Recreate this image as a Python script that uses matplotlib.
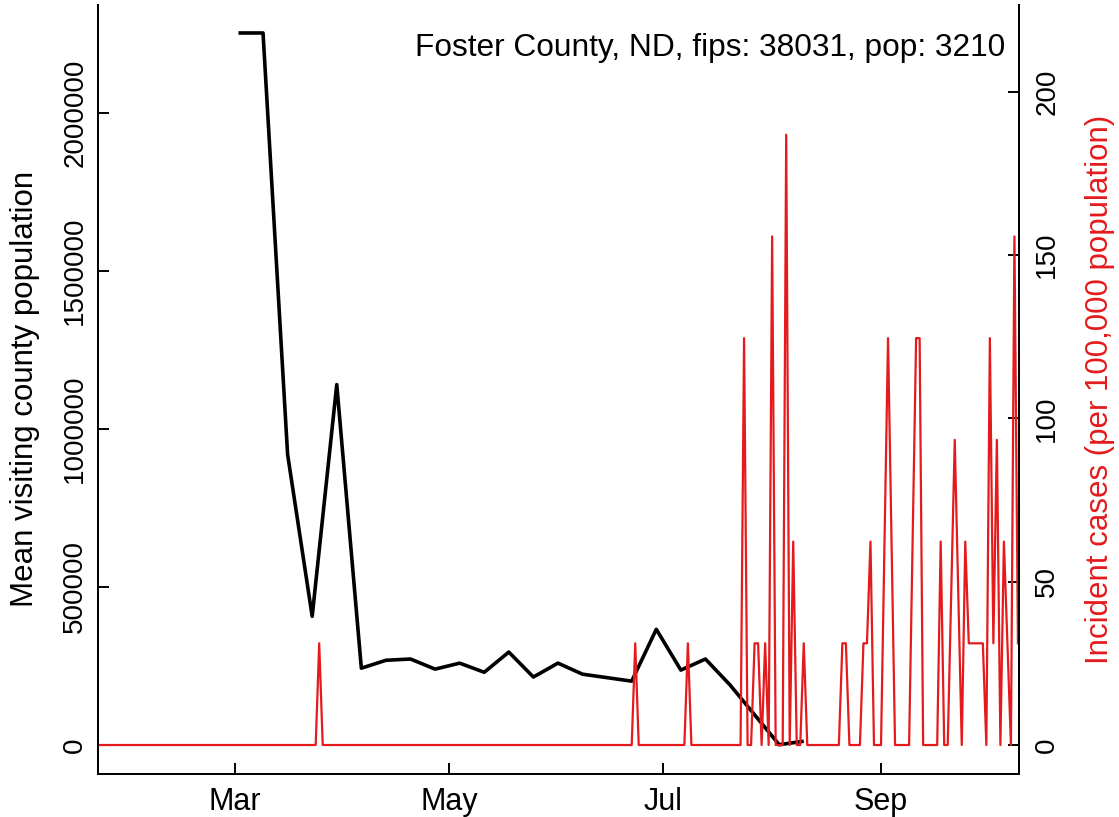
import matplotlib
matplotlib.use("Agg")
import matplotlib.pyplot as plt
import matplotlib.dates as mdates
import pandas as pd

plt.rcParams['font.family'] = ['Liberation Sans', 'DejaVu Sans']

# weekly mean visiting population (black line)
visit_dates = ['2020-03-02', '2020-03-09', '2020-03-16', '2020-03-23', '2020-03-30',
               '2020-04-06', '2020-04-13', '2020-04-20', '2020-04-27', '2020-05-04',
               '2020-05-11', '2020-05-18', '2020-05-25', '2020-06-01', '2020-06-08',
               '2020-06-22', '2020-06-29', '2020-07-06', '2020-07-13', '2020-07-20',
               '2020-08-03', '2020-08-10']
visit_means = [2252000, 2252000, 919000, 407000, 1140000,
               243000, 268000, 272000, 240000, 259000,
               230000, 294000, 215000, 259000, 224000,
               202000, 366000, 237000, 272000, 190000,
               1000, 12000]

# daily new cases; every day not listed is zero
case_start = '2020-01-22'
case_end = '2020-10-10'
case_dates = ['2020-03-25', '2020-06-23', '2020-07-08', '2020-07-24', '2020-07-27',
              '2020-07-28', '2020-07-30', '2020-08-01', '2020-08-05', '2020-08-07',
              '2020-08-10', '2020-08-21', '2020-08-22', '2020-08-27', '2020-08-28',
              '2020-08-29', '2020-09-02', '2020-09-03', '2020-09-04', '2020-09-10',
              '2020-09-11', '2020-09-12', '2020-09-18', '2020-09-21', '2020-09-22',
              '2020-09-23', '2020-09-25', '2020-09-26', '2020-09-27', '2020-09-28',
              '2020-09-29', '2020-09-30', '2020-10-02', '2020-10-03', '2020-10-04',
              '2020-10-06', '2020-10-07', '2020-10-09', '2020-10-10']
case_counts = [1, 1, 1, 4, 1,
               1, 1, 5, 6, 2,
               1, 1, 1, 1, 1,
               2, 2, 4, 2, 2,
               4, 4, 2, 1.5, 3,
               1.5, 2, 1, 1, 1,
               1, 1, 4, 1, 3,
               2, 1, 5, 1]
population = 3210
case_axis_max = 7  # cases, top of the right axis range

days = pd.date_range(case_start, case_end, freq='D')
daily = pd.Series(0.0, index=days)
daily[pd.to_datetime(case_dates)] = case_counts
incidence = daily * 1e5 / population

red = '#E41A1C'

fig = plt.figure(figsize=(11.19, 8.17), dpi=100)
ax = fig.add_axes([98 / 1119, 1 - 773.5 / 817, 921 / 1119, 769 / 817])

ax.plot(pd.to_datetime(visit_dates), visit_means, color='black', lw=2.6,
        solid_joinstyle='round', solid_capstyle='butt')
vmax = max(visit_means)
ax.set_ylim(-0.04 * vmax, 1.04 * vmax)
ax.set_yticks([0, 500000, 1000000, 1500000, 2000000])
ax.set_yticklabels(['0', '500000', '1000000', '1500000', '2000000'],
                   rotation=90, va='center', fontsize=20)

x0 = pd.Timestamp(case_start)
ax.set_xlim(x0, x0 + pd.Timedelta(hours=262.3 * 24))
ax.xaxis.set_major_locator(mdates.MonthLocator(bymonth=[3, 5, 7, 9]))
ax.xaxis.set_major_formatter(mdates.DateFormatter('%b'))
ax.tick_params(axis='x', labelsize=22, direction='in', length=8, width=1.4, pad=10)
ax.tick_params(axis='y', direction='in', length=8, width=1.4, pad=7)

ax2 = ax.twinx()
ax2.plot(days, incidence, color=red, lw=1.6)
cmax = case_axis_max * 1e5 / population
ax2.set_ylim(-0.04 * cmax, 1.04 * cmax)
ax2.set_yticks([0, 50, 100, 150, 200])
ax2.set_yticklabels(['0', '50', '100', '150', '200'], rotation=90, va='center', fontsize=20)
ax2.tick_params(axis='y', direction='in', length=8, width=1.4, pad=11)

for a in (ax, ax2):
    a.spines['top'].set_visible(False)
    for s in ('left', 'right', 'bottom'):
        a.spines[s].set_linewidth(1.4)

fig.text(25 / 1119, 0.5 * (1 - 4.5 / 817 + 1 - 773.5 / 817), 'Mean visiting county population',
         rotation=90, ha='center', va='center', fontsize=22.5)
fig.text(1100 / 1119, 0.5 * (1 - 4.5 / 817 + 1 - 773.5 / 817),
         'Incident cases (per 100,000 population)',
         rotation=90, ha='center', va='center', fontsize=22.5, color=red)
fig.text(1005 / 1119, 1 - 56 / 817, 'Foster County, ND, fips: 38031, pop: 3210',
         ha='right', va='baseline', fontsize=22.8)

fig.savefig('out.png', dpi=100)
